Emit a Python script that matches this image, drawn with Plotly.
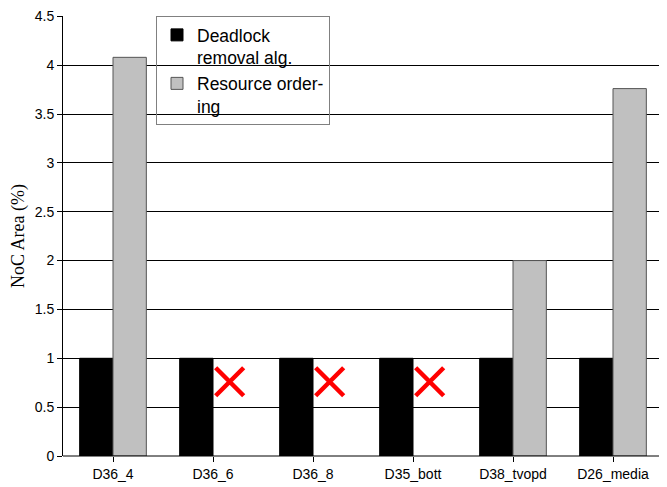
import plotly.graph_objects as go

categories = ["D36_4", "D36_6", "D36_8", "D35_bott", "D38_tvopd", "D26_media"]
deadlock_removal = [1, 1, 1, 1, 1, 1]
resource_ordering = [4.08, None, None, None, 2.0, 3.76]
infeasible_marker_y = [None, 0.76, 0.76, 0.76, None, None]
y_ticks = [0, 0.5, 1, 1.5, 2, 2.5, 3, 3.5, 4, 4.5]

xs = list(range(len(categories)))

fig = go.Figure()
fig.add_trace(go.Bar(
    x=xs, y=deadlock_removal, name="Deadlock<br>removal alg.",
    marker=dict(color="#000000", line=dict(color="#000000", width=1)),
))
fig.add_trace(go.Bar(
    x=xs, y=resource_ordering, name="Resource order-<br>ing",
    marker=dict(color="#c0c0c0", line=dict(color="#555555", width=1)),
))
fig.add_trace(go.Scatter(
    x=[i + 1/6 for i in xs], y=infeasible_marker_y, mode="markers",
    marker=dict(symbol="x-thin", size=28, line=dict(color="#ff0000", width=4.5), color="#ff0000"),
    showlegend=False, hoverinfo="skip",
))

# page body has an 8px margin; margins compensate so the plot lands where the reference has it
fig.update_layout(
    width=667, height=487,
    margin=dict(l=55, r=12, t=8, b=39, autoexpand=False),
    paper_bgcolor="white", plot_bgcolor="white",
    barmode="group", bargap=1/3, bargroupgap=0,
    font=dict(family="Liberation Sans, Arial, sans-serif", size=14, color="black"),
    legend=dict(
        x=0.155, y=1, xanchor="left", yanchor="top",
        bgcolor="rgba(0,0,0,0)", bordercolor="#808080", borderwidth=1,
        font=dict(size=17.5, family="Liberation Sans, Arial, sans-serif"),
        valign="top", tracegroupgap=6,
    ),
    xaxis=dict(
        tickmode="array", tickvals=xs, ticktext=categories,
        range=[-0.5, len(categories) - 0.5],
        showgrid=False, zeroline=False, automargin=False,
        showline=False, ticks="outside", ticklen=5, tickcolor="black",
        tickfont=dict(size=14),
    ),
    yaxis=dict(
        range=[0, 4.503], tickvals=y_ticks, ticktext=[f"{v:g}" for v in y_ticks],
        showgrid=True, gridcolor="black", gridwidth=1, automargin=False,
        zeroline=False, showline=True, linecolor="black", linewidth=1,
        ticks="outside", ticklen=5, tickcolor="black", ticklabeloverflow="allow",
        tickfont=dict(size=14),
        title=dict(text="NoC Area (%)", font=dict(family="Liberation Serif, Times New Roman, serif", size=18), standoff=8),
    ),
    shapes=[
        dict(type="line", xref="paper", yref="paper", x0=1, x1=1, y0=0, y1=1,
             line=dict(color="#808080", width=1)),
        dict(type="line", xref="paper", yref="paper", x0=0, x1=1, y0=0, y1=0,
             line=dict(color="black", width=1)),
    ],
)

fig.write_html("out.html")
